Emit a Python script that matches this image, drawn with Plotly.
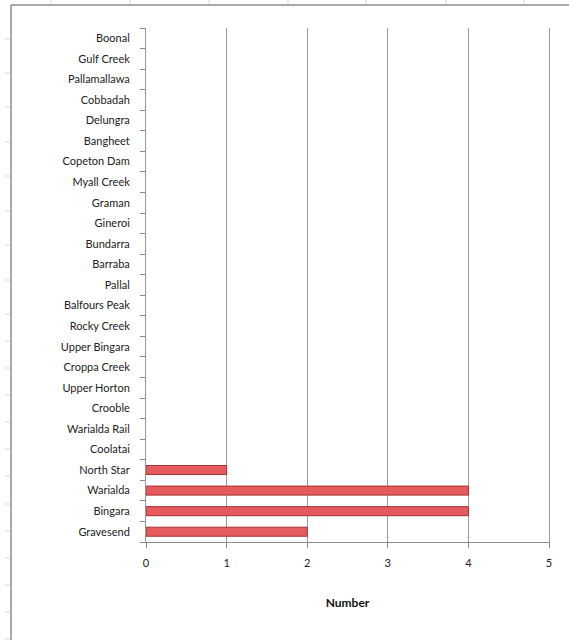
import plotly.graph_objects as go

# Data (bottom to top as drawn)
locations = ["Gravesend", "Bingara", "Warialda", "North Star", "Coolatai",
             "Warialda Rail", "Crooble", "Upper Horton", "Croppa Creek",
             "Upper Bingara", "Rocky Creek", "Balfours Peak", "Pallal",
             "Barraba", "Bundarra", "Gineroi", "Graman", "Myall Creek",
             "Copeton Dam", "Bangheet", "Delungra", "Cobbadah",
             "Pallamallawa", "Gulf Creek", "Boonal"]
numbers = [2, 4, 4, 1, 0, 0, 0, 0, 0, 0, 0, 0, 0, 0, 0, 0, 0, 0, 0, 0, 0, 0, 0, 0, 0]
x_ticks = [0, 1, 2, 3, 4, 5]
x_title = "Number"

W, H = 569, 640
# target screen positions of plot area: left 146, right 549, top 28, bottom 542
L, T = 146, 28
pw = 549 - 146
ph = 542 - 28
R = W - L - pw
B = H - T - ph


def px(x):
    return (x - L) / pw


def py(y):
    return (H - B - y) / ph


FONT = "Lato, 'Open Sans', sans-serif"

fig = go.Figure()
fig.add_trace(go.Bar(
    y=locations, x=numbers, orientation="h",
    marker=dict(color="#e65c5e",
                line=dict(color="#a83030", width=[1 if v else 0 for v in numbers])),
    hoverinfo="x+y",
))

shapes = []
# spreadsheet decoration: chart border
shapes.append(dict(type="line", xref="paper", yref="paper",
                   x0=px(11), x1=px(11), y0=py(5), y1=py(700),
                   line=dict(color="#8c8c8c", width=1.5)))
shapes.append(dict(type="line", xref="paper", yref="paper",
                   x0=px(11), x1=px(600), y0=py(5), y1=py(5),
                   line=dict(color="#8c8c8c", width=1.5)))
# row marks on the left
for yy in [39, 73, 107, 142, 176, 211, 245, 280, 314, 341, 368, 395, 422,
           449, 476, 504, 531, 558, 585, 612, 639]:
    shapes.append(dict(type="line", xref="paper", yref="paper",
                       x0=px(5), x1=px(10), y0=py(yy), y1=py(yy),
                       line=dict(color="#d8d8d8", width=1)))
# column marks at top
for xx in [51, 130, 209, 288, 366, 446, 524]:
    shapes.append(dict(type="line", xref="paper", yref="paper",
                       x0=px(xx), x1=px(xx), y0=py(0), y1=py(4),
                       line=dict(color="#d8d8d8", width=1)))

fig.update_layout(
    width=W, height=H,
    margin=dict(l=L, r=R, t=T, b=B),
    paper_bgcolor="white", plot_bgcolor="white",
    showlegend=False,
    bargap=0.56,
    font=dict(family=FONT, size=11, color="#222222"),
    shapes=shapes,
)
fig.update_xaxes(
    range=[0, 5], tickvals=x_ticks, ticktext=[str(v) for v in x_ticks],
    showgrid=True, gridcolor="#9a9a9a", gridwidth=1,
    showline=True, linecolor="#8c8c8c", linewidth=1,
    ticks="outside", ticklen=5, tickcolor="#8c8c8c",
    tickfont=dict(family=FONT, size=11, color="#222222"),
    ticklabelstandoff=6,
    zeroline=False,
    title=dict(text="<b>" + x_title + "</b>", font=dict(family=FONT, size=12, color="#111111"),
               standoff=30),
    fixedrange=True,
)
fig.update_yaxes(
    type="category", categoryorder="array", categoryarray=locations,
    showgrid=False,
    showline=True, linecolor="#9a9a9a", linewidth=1, mirror=True,
    ticks="outside", ticklen=5, tickcolor="#8c8c8c", tickson="boundaries",
    tickfont=dict(family=FONT, size=11, color="#222222"),
    ticklabelstandoff=13,
    fixedrange=True,
)

fig.write_html("out.html",
               config={"displayModeBar": False},
               post_script="document.body.style.margin='0';document.body.style.overflow='hidden';")
